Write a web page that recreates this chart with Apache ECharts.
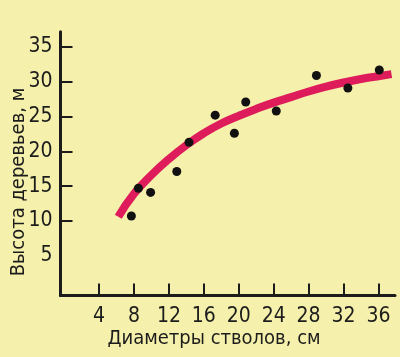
<!DOCTYPE html>
<html>
<head>
<meta charset="utf-8">
<script src="https://cdn.jsdelivr.net/npm/echarts@6/dist/echarts.min.js"></script>
<style>
html,body{margin:0;padding:0;background:#f5f0ab;}
#c{width:400px;height:357px;}
</style>
</head>
<body>
<div id="c"></div>
<script>
// Scatter observations: stem diameter (cm) vs tree height (m)
var pointDiameters = [7.7, 8.5, 9.9, 12.9, 14.3, 17.3, 19.5, 20.8, 24.3, 28.9, 32.5, 36.1];
var pointHeights   = [10.7, 14.7, 14.1, 17.1, 21.3, 25.2, 22.6, 27.1, 25.8, 30.9, 29.1, 31.7];
// Fitted curve
var curveDiameters = [6.2, 8, 10, 12, 14, 16, 18, 20, 22, 24, 26, 28, 30, 32, 34, 36, 37.5];
var curveHeights   = [10.6, 13.9, 16.6, 18.9, 20.9, 22.6, 24.0, 25.1, 26.1, 27.0, 27.8, 28.6, 29.3, 29.9, 30.4, 30.8, 31.1];
// Tick labels
var xTickLabels = [4, 8, 12, 16, 20, 24, 28, 32, 36];
var yTickLabels = [5, 10, 15, 20, 25, 30, 35];
var yTickMarks  = [10, 15, 20, 25, 30, 35];
var xAxisTitle = 'Диаметры стволов, см';
var yAxisTitle = 'Высота деревьев, м';

var FONT = '"Liberation Sans Narrow", "DejaVu Sans Condensed", "Liberation Sans", sans-serif';
var INK = '#1c1c1c';

var chart = echarts.init(document.getElementById('c'));
chart.setOption({
  backgroundColor: '#f5f0ab',
  animation: false,
  grid: {left: 60.5, top: 31.7, right: 5, bottom: 61.5, containLabel: false},
  xAxis: {
    type: 'value', min: -0.42, max: 37.9,
    axisLine: {show: true, onZero: false, lineStyle: {color: INK, width: 3}},
    axisTick: {show: true, inside: true, length: 12, customValues: xTickLabels, lineStyle: {color: INK, width: 2}},
    axisLabel: {show: true, customValues: xTickLabels, margin: 11, color: INK, fontFamily: FONT, fontSize: 21},
    splitLine: {show: false}
  },
  yAxis: {
    type: 'value', min: -0.72, max: 37.2,
    axisLine: {show: true, onZero: false, lineStyle: {color: INK, width: 3}},
    axisTick: {show: true, inside: true, length: 12, customValues: yTickMarks, lineStyle: {color: INK, width: 2}},
    axisLabel: {show: true, customValues: yTickLabels, margin: 8, color: INK, fontFamily: FONT, fontSize: 21},
    splitLine: {show: false}
  },
  graphic: [
    {type: 'text', x: 214, y: 339, style: {text: xAxisTitle, textAlign: 'center', textVerticalAlign: 'middle', fill: INK, font: '20px ' + FONT}},
    {type: 'text', x: 18.5, y: 182, rotation: Math.PI / 2, style: {text: yAxisTitle, textAlign: 'center', textVerticalAlign: 'middle', fill: INK, font: '20px ' + FONT}}
  ],
  series: [
    {
      type: 'line', smooth: true, symbol: 'none',
      data: curveDiameters.map(function (d, i) { return [d, curveHeights[i]]; }),
      lineStyle: {color: '#de1c5c', width: 8, cap: 'butt'},
      z: 2
    },
    {
      type: 'scatter', symbol: 'circle', symbolSize: 9,
      data: pointDiameters.map(function (d, i) { return [d, pointHeights[i]]; }),
      itemStyle: {color: '#111111', opacity: 1},
      z: 3
    }
  ]
});
</script>
</body>
</html>
